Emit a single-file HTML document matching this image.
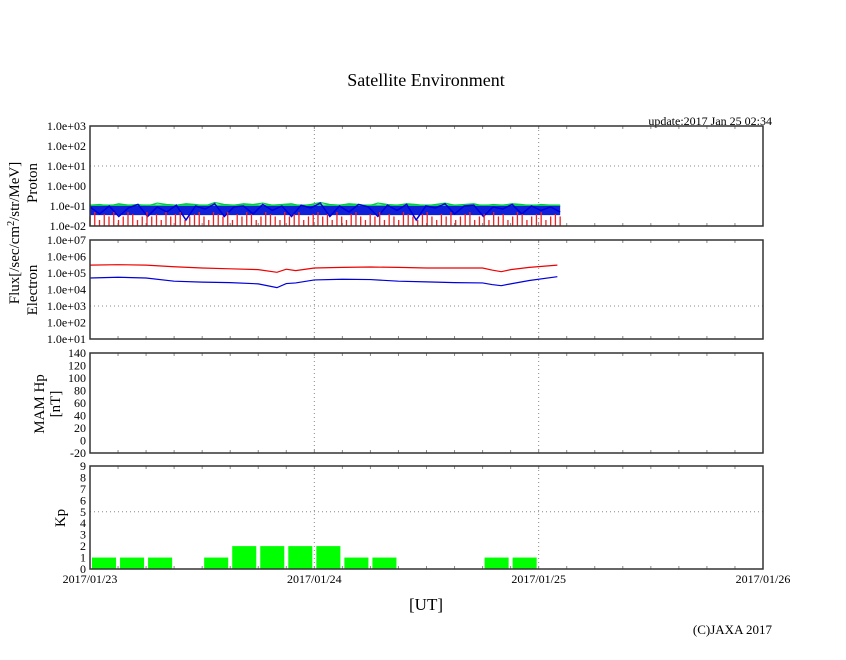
<!DOCTYPE html>
<html><head><meta charset="utf-8"><style>
body{margin:0;background:#fff;}
svg text{font-family:"Liberation Serif",serif;fill:#000;}
</style></head><body>
<svg width="846" height="655">
<text x="426" y="86" font-size="18" text-anchor="middle">Satellite Environment</text>
<text x="772" y="125" font-size="12" text-anchor="end">update:2017 Jan 25 02:34</text>
<text x="772" y="634" font-size="13" text-anchor="end">(C)JAXA 2017</text>
<text x="426" y="610" font-size="17" text-anchor="middle">[UT]</text>
<g id="g"></g>
</svg>
<script>
const xTickLabels=["2017/01/23","2017/01/24","2017/01/25","2017/01/26"];
const protonGreen=[0.11,0.12,0.1,0.13,0.11,0.12,0.1,0.14,0.12,0.11,0.13,0.12,0.1,0.15,0.12,0.11,0.13,0.12,0.14,0.11,0.12,0.13,0.1,0.12,0.15,0.12,0.11,0.13,0.12,0.1,0.14,0.12,0.11,0.13,0.12,0.1,0.12,0.14,0.11,0.12,0.13,0.1,0.12,0.11,0.13,0.12,0.1,0.12,0.11,0.1];
const protonBlue=[0.09,0.04,0.1,0.03,0.08,0.12,0.03,0.09,0.05,0.11,0.02,0.1,0.07,0.13,0.03,0.09,0.1,0.04,0.12,0.06,0.1,0.03,0.11,0.08,0.14,0.03,0.1,0.05,0.12,0.09,0.03,0.11,0.06,0.12,0.02,0.1,0.08,0.13,0.04,0.1,0.11,0.03,0.09,0.07,0.12,0.04,0.1,0.06,0.09,0.05];
const protonRed=[0.03,0.05,0.02,0.04,0.03,0.05,0.02,0.03,0.05,0.04,0.02,0.03,0.05,0.03,0.04,0.02,0.05,0.03,0.04,0.05,0.02,0.03,0.04,0.05,0.03,0.02,0.05,0.04,0.03,0.05,0.02,0.04,0.03,0.05,0.04,0.02,0.03,0.05,0.04,0.03,0.02,0.05,0.03,0.04,0.05,0.02,0.03,0.04,0.05,0.03,
0.04,0.02,0.05,0.03,0.02,0.04,0.05,0.03,0.02,0.04,0.03,0.05,0.02,0.04,0.03,0.02,0.05,0.04,0.03,0.02,0.04,0.05,0.03,0.02,0.04,0.03,0.05,0.02,0.03,0.04,0.05,0.02,0.03,0.04,0.02,0.05,0.03,0.04,0.02,0.03,0.05,0.04,0.02,0.03,0.04,0.05,0.02,0.03,0.04,0.03];
const elecHours=[0,3,6,9,12,15,18,20,21,22,24,27,30,33,36,39,42,43,44,45,47,50];
const elecRed=[3.0e5,3.2e5,3.0e5,2.4e5,2.0e5,1.8e5,1.6e5,1.1e5,1.7e5,1.4e5,2.0e5,2.2e5,2.3e5,2.2e5,2.0e5,2.0e5,2.0e5,1.5e5,1.2e5,1.6e5,2.2e5,3.0e5];
const elecBlue=[5.0e4,5.5e4,5.0e4,3.2e4,2.8e4,2.6e4,2.2e4,1.3e4,2.3e4,2.5e4,3.8e4,4.2e4,4.0e4,3.2e4,2.9e4,2.6e4,2.5e4,2.0e4,1.7e4,2.2e4,3.5e4,6.0e4];
const kpValues=[1,1,1,0,1,2,2,2,2,1,1,0,0,0,1,1];
const protonTicks=["1.0e-02","1.0e-01","1.0e+00","1.0e+01","1.0e+02","1.0e+03"];
const elecTicks=["1.0e+01","1.0e+02","1.0e+03","1.0e+04","1.0e+05","1.0e+06","1.0e+07"];
const mamTicks=[-20,0,20,40,60,80,100,120,140];
const kpTicks=[0,1,2,3,4,5,6,7,8,9];

const NS="http://www.w3.org/2000/svg";
const g=document.getElementById('g');
const L=90,R=763,H0=0,H1=72,DATA_END=50.3;
const x=h=>L+(h-H0)/(H1-H0)*(R-L);
function el(t,a,p){const e=document.createElementNS(NS,t);for(const k in a)e.setAttribute(k,a[k]);(p||g).appendChild(e);return e;}
const panels={p:[126,226],e:[240,339],m:[353,453],k:[466,569]};
const yP=v=>226-(Math.log10(v)+2)/5*100;
const yE=v=>339-(Math.log10(v)-1)/6*99;
const yM=v=>453-(v+20)/160*100;
const yK=v=>569-v/9*103;

function frame(key,name){
 const [t,b]=panels[key];
 for(const d of [1,2]){const v=el('line',{x1:x(d*24),x2:x(d*24),y1:t,y2:b,stroke:'#888','stroke-dasharray':'1,3'});
 }
 for(let h=3;h<72;h+=3){const tk=el('line',{x1:x(h),x2:x(h),y1:t,y2:t+3,stroke:'#888'});
  const tb=el('line',{x1:x(h),x2:x(h),y1:b,y2:b-3,stroke:'#888'});}
}
function border(key,name){const [t,b]=panels[key];const r=el('rect',{x:L,y:t,width:R-L,height:b-t,fill:'none',stroke:'#333','stroke-width':1.5});
 }
function hgrid(y,name){const l=el('line',{x1:L,x2:R,y1:y,y2:y,stroke:'#888','stroke-dasharray':'1,3'});}
function ylab(y,s,name){const t=el('text',{x:86,y:y+4,'font-size':12,'text-anchor':'end'});t.textContent=s;}
function poly(xs,ys,color,name,w){const p=el('polyline',{points:xs.map((v,i)=>v+','+ys[i]).join(' '),fill:'none',stroke:color,'stroke-width':w||1.2});}

// proton
frame('p','proton');hgrid(yP(10),'proton-grid');
protonTicks.forEach((s,i)=>ylab(226-i*20,s,'proton-y-tick'));
const ph=protonBlue.map((_,i)=>i*DATA_END/(protonBlue.length-1));
const gb=el('rect',{x:L,y:yP(0.12),width:x(DATA_END)-L,height:yP(0.09)-yP(0.12),fill:'#1c6'});
poly(ph.map(x),protonGreen.map(yP),'#0c4','proton-green-line');
const bb=el('rect',{x:L,y:yP(0.1),width:x(DATA_END)-L,height:yP(0.035)-yP(0.1),fill:'#1020d8'});
poly(ph.map(x),protonBlue.map(yP),'#00d','proton-blue-line',1.5);
const rh=protonRed.map((_,i)=>i*DATA_END/(protonRed.length-1));
protonRed.forEach((v,i)=>{const l=el('line',{x1:x(rh[i]),x2:x(rh[i]),y1:226,y2:yP(v),stroke:'#e22','stroke-width':1.3});});
border('p','proton');
// electron
frame('e','electron');hgrid(yE(1000),'electron-grid');
elecTicks.forEach((s,i)=>ylab(yE(Math.pow(10,i+1)),s,'electron-y-tick'));
poly(elecHours.map(x),elecRed.map(yE),'#e00','electron-red-line');
poly(elecHours.map(x),elecBlue.map(yE),'#00d','electron-blue-line');
border('e','electron');
// MAM
frame('m','mam');
mamTicks.forEach(v=>ylab(yM(v),String(v),'mam-y-tick'));
border('m','mam');
// Kp
frame('k','kp');hgrid(yK(5),'kp-grid');
kpTicks.forEach(v=>ylab(yK(v),String(v),'kp-y-tick'));
kpValues.forEach((v,i)=>{if(v<=0)return;const x0=x(i*3),x1=x(i*3+3);
 const r=el('rect',{x:x0+2,y:yK(v),width:x1-x0-4,height:569-yK(v),fill:'#0f0'});
 });
border('k','kp');
xTickLabels.forEach((s,i)=>{const t=el('text',{x:x(i*24),y:583,'font-size':12,'text-anchor':'middle'});t.textContent=s;});
// y titles
function ytitle(cx,cy,lines,name){const t=el('text',{transform:`translate(${cx},${cy}) rotate(-90)`,'font-size':15,'text-anchor':'middle'});
 
 lines.forEach((s,i)=>{const ts=el('tspan',{x:0,dy:i?16:0},t);ts.innerHTML=s;});}
ytitle(19,233,['Flux[/sec/cm<tspan dy="-5" font-size="10">2</tspan><tspan dy="5">/str/MeV]</tspan>'],'flux-y-title');
ytitle(37,183,['Proton'],'proton-y-title');
ytitle(37,290,['Electron'],'electron-y-title');
ytitle(44,404,['MAM Hp','[nT]'],'mam-y-title');
ytitle(65,518,['Kp'],'kp-y-title');
</script>
</body></html>
